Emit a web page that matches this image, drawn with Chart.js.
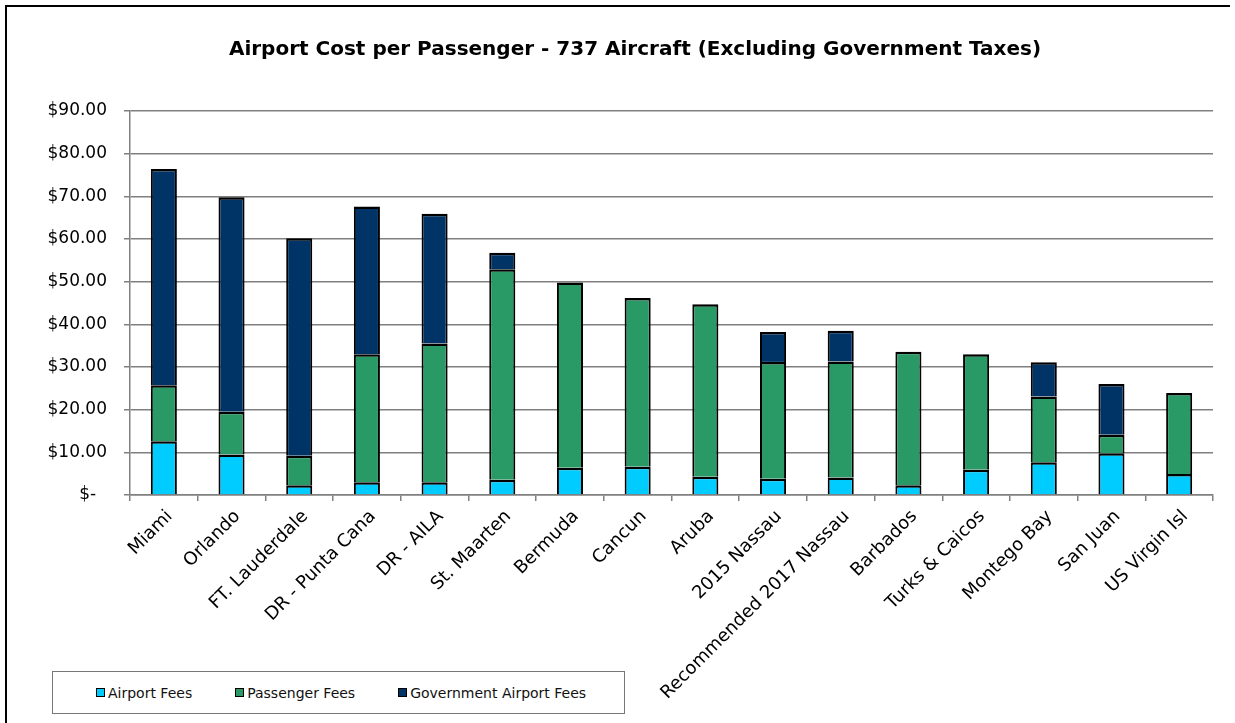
<!DOCTYPE html>
<html>
<head>
<meta charset="utf-8">
<script src="https://cdn.jsdelivr.net/npm/chart.js@4"></script>
<style>
    body { margin: 0; background: #fff; overflow: hidden; }
    #wrap { position: relative; width: 1235px; height: 723px; }
    #legendBox {
        position: absolute; left: 52px; top: 671px; width: 528px; height: 41px;
        border: 1.5px solid #777; background: #fff;
        display: flex; align-items: center; padding-left: 43px; gap: 43px;
        font-family: 'DejaVu Sans', sans-serif; font-size: 14px; color: #111;
    }
    #legendBox .item { display: flex; align-items: center; white-space: nowrap; }
    #legendBox .swatch { width: 7px; height: 7px; border: 1.5px solid #000; margin-right: 3px; }
</style>
</head>
<body>
<div id="wrap">
    <canvas id="costChart"></canvas>
    <div id="legendBox"></div>
</div>
<script>
const airports = ['Miami', 'Orlando', 'FT. Lauderdale', 'DR - Punta Cana', 'DR - AILA', 'St. Maarten',
    'Bermuda', 'Cancun', 'Aruba', '2015 Nassau', 'Recommended 2017 Nassau', 'Barbados',
    'Turks & Caicos', 'Montego Bay', 'San Juan', 'US Virgin Isl'];
const airportFees = [12.6, 9.5, 2.3, 3.0, 3.0, 3.6, 6.4, 6.6, 4.3, 3.8, 4.1, 2.3, 5.9, 7.7, 9.8, 4.9];
const passengerFees = [13.1, 10.0, 6.9, 30.0, 32.5, 49.3, 43.4, 39.6, 40.4, 27.4, 27.2, 31.3, 27.1, 15.4, 4.3, 19.0];
const govAirportFees = [50.7, 50.3, 51.0, 34.6, 30.4, 3.9, null, null, null, 7.0, 7.2, null, null, 8.0, 11.9, null];
const yTickLabels = ['$-  ', '$10.00', '$20.00', '$30.00', '$40.00', '$50.00', '$60.00', '$70.00', '$80.00', '$90.00'];

const FONT = "'DejaVu Sans', sans-serif";

// left and top edge of the chart object border
const outerFrame = {
    id: 'outerFrame',
    afterDraw(chart) {
        const c = chart.ctx;
        c.save();
        c.strokeStyle = '#000';
        c.lineWidth = 2;
        c.beginPath();
        c.moveTo(6, chart.height);
        c.lineTo(6, 6);
        c.lineTo(1230, 6);
        c.stroke();
        c.restore();
    }
};

const ctx = document.getElementById('costChart');
const costChart = new Chart(ctx, {
    type: 'bar',
    data: {
        labels: airports,
        datasets: [{
            label: 'Airport Fees',
            data: airportFees,
            backgroundColor: '#00CCFF'
        },
        {
            label: 'Passenger Fees',
            data: passengerFees,
            backgroundColor: '#299966'
        },
        {
            label: 'Government Airport Fees',
            data: govAirportFees,
            backgroundColor: '#003366'
        }]
    },
    options: {
        responsive: true,
        maintainAspectRatio: false,
        animation: false,
        datasets: {
            bar: {
                borderColor: '#000',
                borderWidth: { top: 2.5, left: 2, right: 2, bottom: 0 },
                barPercentage: 0.385,
                categoryPercentage: 1
            }
        },
        layout: {
            padding: { left: 35, right: 0, top: 0, bottom: 0 }
        },
        plugins: {
            legend: { display: false },
            tooltip: { enabled: false },
            title: {
                display: true,
                text: 'Airport Cost per Passenger - 737 Aircraft (Excluding Government Taxes)',
                color: '#000',
                font: { family: FONT, size: 20, weight: 'bold' },
                padding: { top: 38, bottom: 49 }
            }
        },
        scales: {
            x: {
                stacked: true,
                grid: { drawOnChartArea: false, color: '#808080', lineWidth: 1.5, tickLength: 6 },
                border: { color: '#808080', width: 1.5 },
                ticks: {
                    color: '#000',
                    font: { family: FONT, size: 18 },
                    minRotation: 45,
                    maxRotation: 45,
                    autoSkip: false,
                    padding: 5,
                    labelOffset: 6
                },
                afterFit(scale) { scale.height = 228; }
            },
            y: {
                stacked: true,
                min: 0,
                max: 90,
                grid: { color: '#808080', lineWidth: 1.5, tickLength: 6 },
                border: { color: '#808080', width: 1.5 },
                ticks: {
                    stepSize: 10,
                    color: '#000',
                    font: { family: FONT, size: 17 },
                    padding: 17,
                    callback: function(value, index) {
                        return yTickLabels[index];
                    }
                },
                afterFit(scale) { scale.width = 95; }
            },
            // empty axis that only keeps the gap right of the plot
            yRight: {
                position: 'right',
                display: true,
                grid: { display: false },
                border: { display: false },
                ticks: { display: false },
                afterFit(scale) { scale.width = 22; }
            }
        }
    },
    plugins: [outerFrame]
});

// legend in its own box at the lower left
const legendBox = document.getElementById('legendBox');
costChart.data.datasets.forEach(ds => {
    const item = document.createElement('div');
    item.className = 'item';
    const sw = document.createElement('span');
    sw.className = 'swatch';
    sw.style.background = ds.backgroundColor;
    const txt = document.createElement('span');
    txt.textContent = ds.label;
    item.appendChild(sw);
    item.appendChild(txt);
    legendBox.appendChild(item);
});
</script>
</body>
</html>
